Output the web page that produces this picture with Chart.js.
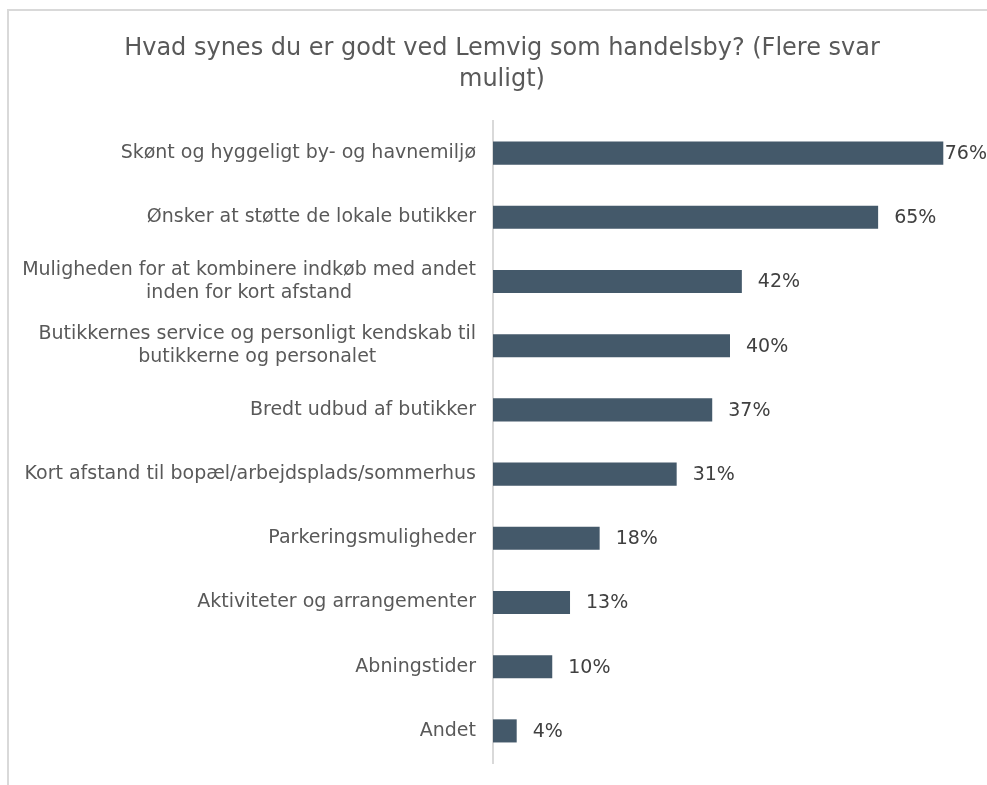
<!DOCTYPE html>
<html lang="da">
<head>
<meta charset="UTF-8" />
<title>Lemvig som handelsby</title>
<script src="https://cdn.jsdelivr.net/npm/chart.js@4.4.0/dist/chart.umd.min.js"></script>
<style>
  html, body { margin: 0; padding: 0; background: #fff; }
  canvas { display: block; }
</style>
</head>
<body>
<canvas id="chart" width="987" height="785"></canvas>
<script>
// svarmuligheder (lange tekster er delt over to linjer)
const categories = [
  ["Skønt og hyggeligt by- og havnemiljø"],
  ["Ønsker at støtte de lokale butikker"],
  ["Muligheden for at kombinere indkøb med andet", "inden for kort afstand"],
  ["Butikkernes service og personligt kendskab til", "butikkerne og personalet"],
  ["Bredt udbud af butikker"],
  ["Kort afstand til bopæl/arbejdsplads/sommerhus"],
  ["Parkeringsmuligheder"],
  ["Aktiviteter og arrangementer"],
  ["Abningstider"],
  ["Andet"]
];
const shares = [76, 65, 42, 40, 37, 31, 18, 13, 10, 4];
const titleLines = ["Hvad synes du er godt ved Lemvig som handelsby? (Flere svar", "muligt)"];

const FONT = "'DejaVu Sans', Verdana, sans-serif";
const LABEL_SIZE = 19;

// grå ramme øverst og til venstre
const framePlugin = {
  id: "frame",
  beforeDraw(chart) {
    const ctx = chart.ctx;
    ctx.save();
    ctx.strokeStyle = "#d9d9d9";
    ctx.lineWidth = 2;
    ctx.beginPath();
    ctx.moveTo(8, chart.height);
    ctx.lineTo(8, 10);
    ctx.lineTo(chart.width, 10);
    ctx.stroke();
    ctx.restore();
  }
};

// kategorinavne: blokken højrestillet ved aksen, linjerne centreret i blokken
const categoryLabels = {
  id: "categoryLabels",
  afterDraw(chart) {
    const ctx = chart.ctx;
    const y = chart.scales.y;
    const right = chart.chartArea.left - 17;
    const lh = 23;
    ctx.save();
    ctx.font = LABEL_SIZE + "px " + FONT;
    ctx.fillStyle = "#595959";
    ctx.textAlign = "center";
    ctx.textBaseline = "middle";
    categories.forEach((lines, i) => {
      const w = Math.max(...lines.map(l => ctx.measureText(l).width));
      const cx = right - w / 2;
      const cy = y.getPixelForValue(i);
      const top = cy - (lines.length - 1) * lh / 2;
      lines.forEach((l, j) => ctx.fillText(l, cx, top + j * lh));
    });
    ctx.restore();
  }
};

// procentværdier til højre for søjlerne
const valueLabels = {
  id: "valueLabels",
  afterDatasetsDraw(chart) {
    const ctx = chart.ctx;
    const meta = chart.getDatasetMeta(0);
    ctx.save();
    ctx.font = LABEL_SIZE + "px " + FONT;
    ctx.fillStyle = "#404040";
    ctx.textAlign = "left";
    ctx.textBaseline = "middle";
    meta.data.forEach((bar, i) => {
      const txt = shares[i] + "%";
      const w = ctx.measureText(txt).width;
      const x = Math.min(bar.x + 16, chart.width - w);
      ctx.fillText(txt, x, bar.y + 1);
    });
    ctx.restore();
  }
};

new Chart(document.getElementById("chart"), {
  type: "bar",
  data: {
    labels: categories,
    datasets: [{
      data: shares,
      backgroundColor: "#44596a",
      categoryPercentage: 1,
      barPercentage: 0.36
    }]
  },
  options: {
    indexAxis: "y",
    responsive: false,
    animation: false,
    layout: { padding: { top: 0, right: 20, bottom: 22, left: 37 } },
    plugins: {
      legend: { display: false },
      tooltip: { enabled: false },
      title: {
        display: true,
        text: titleLines,
        color: "#595959",
        font: { family: FONT, size: 24, weight: "normal", lineHeight: 31 / 24 },
        padding: { top: 33, bottom: 26 }
      }
    },
    scales: {
      x: {
        display: false,
        min: 0,
        max: 80
      },
      y: {
        grid: { display: false },
        border: { display: true, color: "#d9d9d9", width: 2 },
        ticks: { display: false },
        afterFit(scale) { scale.width = 456; }
      }
    }
  },
  plugins: [framePlugin, categoryLabels, valueLabels]
});
</script>
</body>
</html>
